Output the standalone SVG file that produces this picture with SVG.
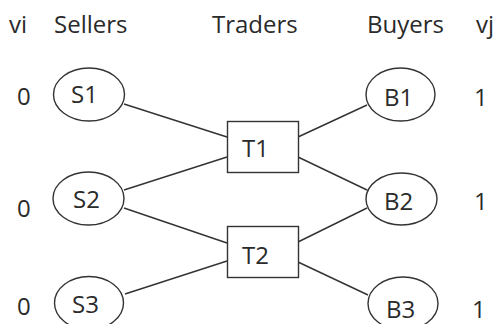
<svg xmlns="http://www.w3.org/2000/svg" width="499" height="324" viewBox="0 0 499 324">
<style>
text{font-family:"Open Sans","DejaVu Sans",sans-serif;font-size:24px;fill:#2a2a2a}
.n ellipse,.n rect{fill:#fff;stroke:#333;stroke-width:1.4}
#edges line{stroke:#333;stroke-width:1.4}
</style>
<rect width="499" height="324" fill="#fff"/>
<g id="headers">
<text x="9" y="33">vi</text>
<text x="54" y="33">Sellers</text>
<text x="212" y="33">Traders</text>
<text x="367" y="33">Buyers</text>
<text x="476" y="33">vj</text>
</g>
<g id="values">
<text x="17" y="105">0</text>
<text x="17" y="217">0</text>
<text x="17" y="315">0</text>
<text x="474" y="106">1</text>
<text x="474" y="210">1</text>
<text x="472" y="318">1</text>
</g>
<g id="edges">
<line x1="124" y1="104" x2="227" y2="137"/>
<line x1="124" y1="190" x2="227" y2="157"/>
<line x1="124" y1="208" x2="227" y2="243"/>
<line x1="125" y1="294" x2="227" y2="261"/>
<line x1="298" y1="137" x2="367" y2="105"/>
<line x1="298" y1="157" x2="367" y2="190"/>
<line x1="298" y1="242" x2="367" y2="208"/>
<line x1="298" y1="262" x2="368" y2="295"/>
</g>
<g id="S1" class="n"><ellipse cx="89" cy="94.5" rx="35.5" ry="26.5"/><text x="71" y="103">S1</text></g>
<g id="S2" class="n"><ellipse cx="88.5" cy="198.5" rx="35.5" ry="26.5"/><text x="73" y="208">S2</text></g>
<g id="S3" class="n"><ellipse cx="89" cy="303" rx="34.5" ry="26.5"/><text x="72" y="313">S3</text></g>
<g id="T1" class="n"><rect x="227.5" y="121.5" width="71" height="51"/><text x="242" y="157">T1</text></g>
<g id="T2" class="n"><rect x="227.5" y="226.5" width="71" height="51"/><text x="242" y="264">T2</text></g>
<g id="B1" class="n"><ellipse cx="400.5" cy="94.5" rx="34.5" ry="26.5"/><text x="384" y="106">B1</text></g>
<g id="B2" class="n"><ellipse cx="401.5" cy="199" rx="35.5" ry="26"/><text x="384" y="210">B2</text></g>
<g id="B3" class="n"><ellipse cx="403" cy="303.5" rx="35" ry="26.5"/><text x="386" y="318">B3</text></g>
</svg>
